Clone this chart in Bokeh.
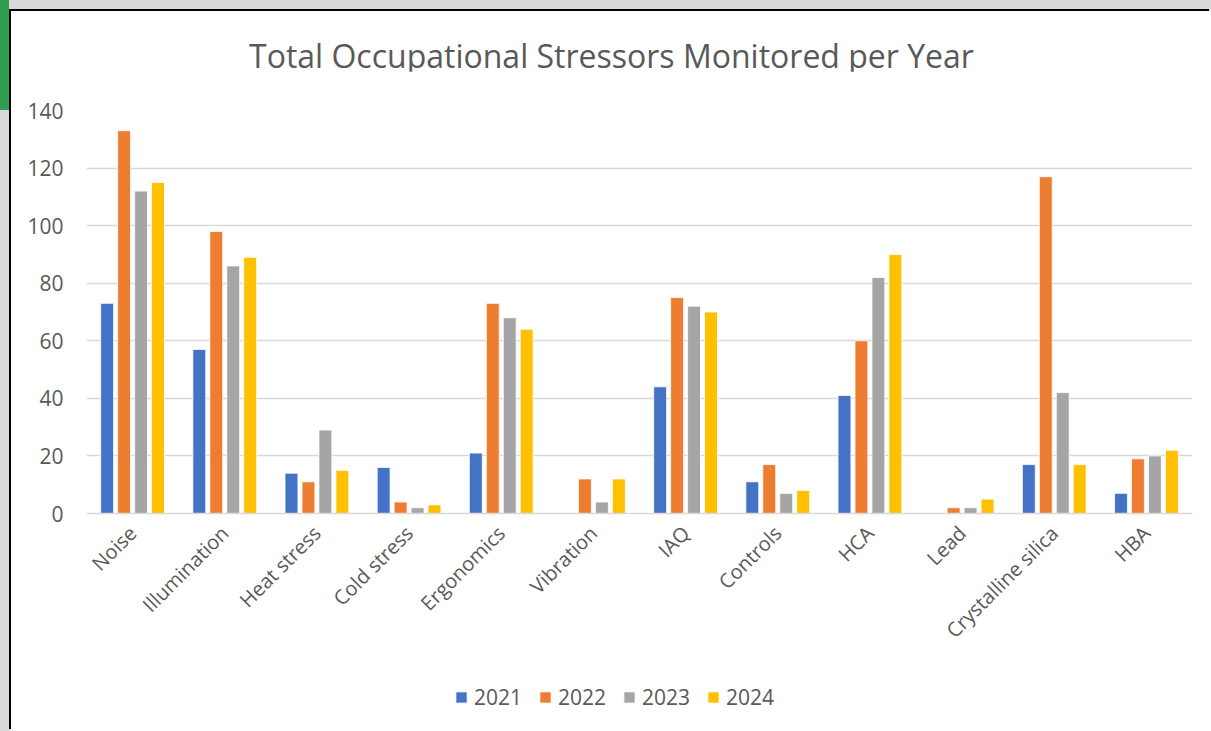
import math
from bokeh.plotting import figure
from bokeh.layouts import column
from bokeh.models import ColumnDataSource, Range1d, FactorRange, Legend, LegendItem, Div
from bokeh.transform import dodge
from bokeh.embed import file_html
from bokeh.resources import INLINE

title_text = "Total Occupational Stressors Monitored per Year"
categories = ["Noise", "Illumination", "Heat stress", "Cold stress", "Ergonomics",
              "Vibration", "IAQ", "Controls", "HCA", "Lead", "Crystalline silica", "HBA"]
years = ["2021", "2022", "2023", "2024"]
v2021 = [73, 57, 14, 16, 21, 0, 44, 11, 41, 0, 17, 7]
v2022 = [133, 98, 11, 4, 73, 12, 75, 17, 60, 2, 117, 19]
v2023 = [112, 86, 29, 2, 68, 4, 72, 7, 82, 2, 42, 20]
v2024 = [115, 89, 15, 3, 64, 12, 70, 8, 90, 5, 17, 22]
y_ticks = [0, 20, 40, 60, 80, 100, 120, 140]

colors = ["#4472C4", "#ED7D31", "#A5A5A5", "#FFC000"]
offsets = [-0.276, -0.092, 0.092, 0.276]
FONT = "Open Sans"
TXT = "#595959"

src = ColumnDataSource(dict(cat=categories, y2021=v2021, y2022=v2022, y2023=v2023, y2024=v2024))

title = Div(text=('<div style="font-family:\'Open Sans\';font-size:32px;color:%s;line-height:1;'
                  'padding:29px 0 0 238px;white-space:nowrap">%s</div>') % (TXT, title_text),
            width=1200, height=60, margin=0, styles={"background-color": "white"})

p = figure(width=1200, height=600, x_range=FactorRange(*categories), y_range=Range1d(0, 140),
           output_backend="svg", toolbar_location=None,
           min_border_left=75, min_border_right=19, min_border_top=39, min_border_bottom=158)

for yr, col, off in zip(years, colors, offsets):
    p.vbar(x=dodge("cat", off, range=p.x_range), top="y" + yr, width=0.14, source=src,
           fill_color=col, line_color="white", line_width=0.8)

p.outline_line_color = None
p.background_fill_color = "white"
p.border_fill_color = "white"

p.xgrid.grid_line_color = None
p.ygrid.grid_line_color = "#D9D9D9"
p.ygrid.grid_line_width = 1.5
p.yaxis.ticker = y_ticks

p.yaxis.axis_line_color = None
p.yaxis.major_tick_line_color = None
p.yaxis.minor_tick_line_color = None
p.yaxis.major_label_text_font = FONT
p.yaxis.major_label_text_font_size = "21px"
p.yaxis.major_label_text_color = TXT
p.yaxis.major_label_standoff = 17

p.xaxis.axis_line_color = "#D9D9D9"
p.xaxis.axis_line_width = 1.5
p.xaxis.major_tick_line_color = None
p.xaxis.minor_tick_line_color = None
p.xaxis.major_label_orientation = math.pi / 4
p.xaxis.major_label_text_font = FONT
p.xaxis.major_label_text_font_size = "20px"
p.xaxis.major_label_text_color = TXT
p.xaxis.major_label_standoff = 10

# legend strip (its bars lie outside its visible y range)
pl = figure(width=1200, height=60, x_range=FactorRange(*categories), y_range=Range1d(1000, 1001),
            output_backend="svg", toolbar_location=None, x_axis_type=None, y_axis_type=None,
            min_border=0)
pl.outline_line_color = None
pl.grid.grid_line_color = None
pl.border_fill_color = "white"
items = []
for yr, col, off in zip(years, colors, offsets):
    r = pl.vbar(x=dodge("cat", off, range=pl.x_range), top="y" + yr, width=0.14, source=src,
                fill_color=col, line_color="white", line_width=0.8)
    items.append(LegendItem(label=yr, renderers=[r]))
legend = Legend(items=items, orientation="horizontal", location=(368, 20),
                border_line_color=None, background_fill_alpha=0,
                label_text_font=FONT, label_text_font_size="21px", label_text_color=TXT,
                glyph_width=14, glyph_height=14, label_standoff=6, spacing=16, padding=0,
                margin=0, label_height=20)
pl.add_layout(legend)

page = column(title, p, pl, spacing=0,
              styles={"margin-left": "11px", "margin-top": "11px",
                      "box-shadow": "-2px -2px 0 0 #000000, -1202px -621px 0 0 #2F9E50, "
                                    "-11px -11px 0 11px #D9D9D9"})

open("out.html", "w").write(file_html(page, INLINE))
